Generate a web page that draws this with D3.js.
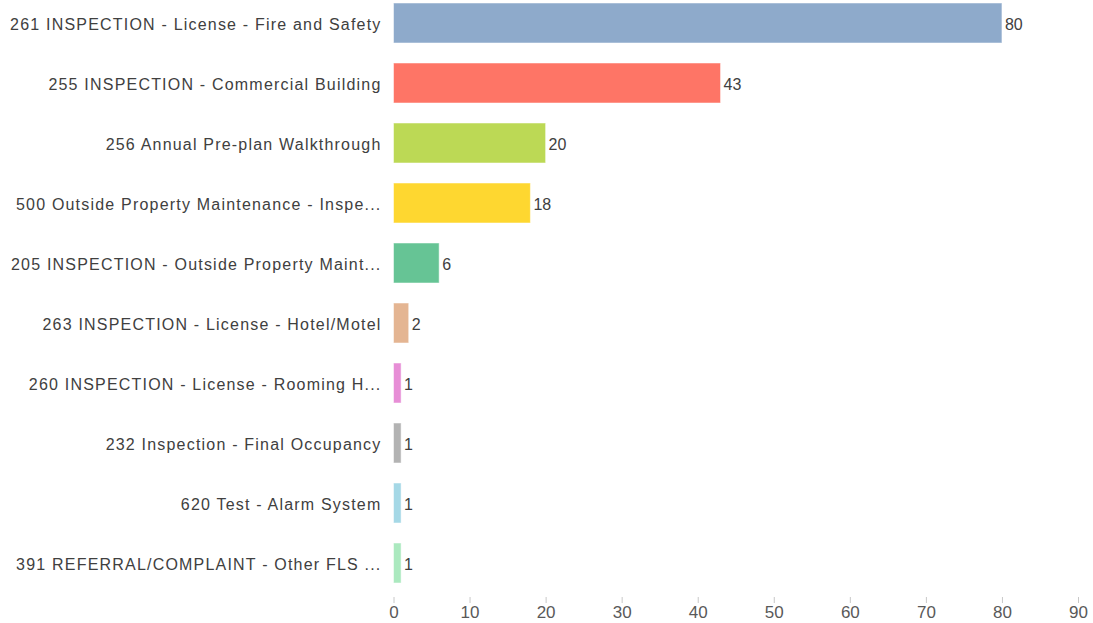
<!DOCTYPE html>
<html>
<head>
<meta charset="utf-8">
<script src="https://d3js.org/d3.v7.min.js"></script>
<style>
  body { margin: 0; background: #fff; }
  text { font-family: "Liberation Sans", Arial, sans-serif; }
</style>
</head>
<body>
<div id="chart"></div>
<script>
// data
var categories = [
  "261 INSPECTION - License - Fire and Safety",
  "255 INSPECTION - Commercial Building",
  "256 Annual Pre-plan Walkthrough",
  "500 Outside Property Maintenance - Inspe...",
  "205 INSPECTION - Outside Property Maint...",
  "263 INSPECTION - License - Hotel/Motel",
  "260 INSPECTION - License - Rooming H...",
  "232 Inspection - Final Occupancy",
  "620 Test - Alarm System",
  "391 REFERRAL/COMPLAINT - Other FLS ..."
];
var counts = [80, 43, 20, 18, 6, 2, 1, 1, 1, 1];
var barColors = ["#8eaacb", "#fe7566", "#bcd955", "#fed730", "#66c495",
                 "#e4b592", "#e78ed6", "#b3b3b3", "#a5d8e6", "#abe9bf"];
var xTicks = [0, 10, 20, 30, 40, 50, 60, 70, 80, 90];

var svgWidth = 1093, svgHeight = 623;

var svg = d3.select("#chart")
  .append("svg")
  .attr("width", svgWidth)
  .attr("height", svgHeight);

var x = d3.scaleLinear()
  .domain([0, 90])
  .range([393.5, 1078]);

var y = d3.scaleBand()
  .domain(categories)
  .range([-7, 593])
  .paddingInner(1 / 3)
  .paddingOuter(1 / 6);

// bars
svg.append("g")
  .selectAll("rect")
  .data(counts)
  .enter()
  .append("rect")
  .attr("x", x(0))
  .attr("y", (d, i) => y(categories[i]))
  .attr("width", d => x(d) - x(0))
  .attr("height", y.bandwidth())
  .attr("fill", (d, i) => barColors[i])
  .attr("stroke", "#ffffff")
  .attr("stroke-opacity", 0.5)
  .attr("stroke-width", 1);

// value labels
svg.append("g")
  .selectAll("text")
  .data(counts)
  .enter()
  .append("text")
  .attr("x", d => x(d) + 3)
  .attr("y", (d, i) => y(categories[i]) + y.bandwidth() / 2)
  .attr("dy", "0.42em")
  .attr("font-size", 16)
  .attr("fill", "#404040")
  .text(d => d);

// category axis
var leftAxis = d3.axisLeft(y).tickSize(0).tickPadding(12);
var yAxis = svg.append("g")
  .attr("transform", `translate(${x(0)}, 0)`)
  .call(leftAxis);
yAxis.select(".domain").remove();
yAxis.selectAll("text")
  .attr("font-size", 16)
  .attr("font-family", "Liberation Sans, Arial, sans-serif")
  .attr("letter-spacing", "1.2px")
  .attr("dy", "0.42em")
  .attr("fill", "#404040");

// value axis
var bottomAxis = d3.axisBottom(x).tickValues(xTicks).tickSize(6).tickPadding(3);
var xAxis = svg.append("g")
  .attr("transform", "translate(0, 597)")
  .call(bottomAxis);
xAxis.select(".domain").remove();
xAxis.selectAll("line").attr("stroke", "#c8c8c8");
xAxis.selectAll("text")
  .attr("font-size", 17)
  .attr("font-family", "Liberation Sans, Arial, sans-serif")
  .attr("fill", "#595959");
</script>
</body>
</html>
